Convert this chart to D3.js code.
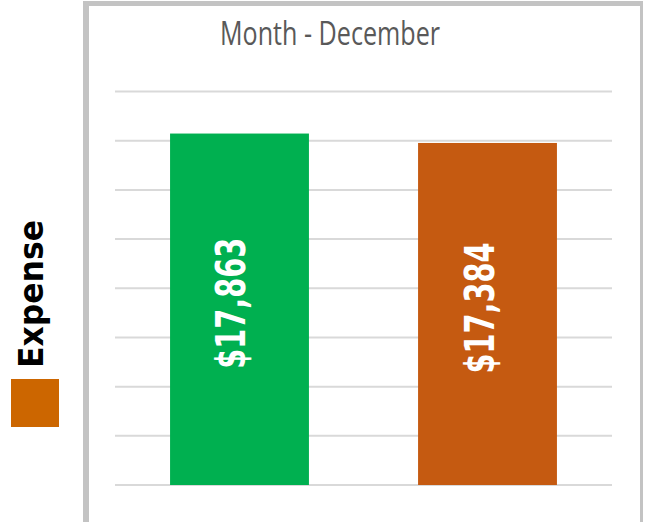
<!DOCTYPE html>
<html>
<head>
<meta charset="utf-8">
<script src="https://cdn.jsdelivr.net/npm/d3@7"></script>
<style>
  html, body { margin: 0; padding: 0; background: #fff; }
  svg { display: block; }
</style>
</head>
<body>
<div id="chart"></div>
<script>
// chart data
const categories = ['Income', 'Expense'];
const values = [17863, 17384];
const barColors = ['#00B050', '#C55A11'];
const labels = ['$17,863', '$17,384'];
const gridTicks = [0, 2500, 5000, 7500, 10000, 12500, 15000, 17500, 20000];
const chartTitle = 'Month - December';
const legendKeys = ['Expense'];
const legendColors = ['#CC6600'];

(function () {
  'use strict';
  const W = 647, H = 522;
  const svg = d3.select('#chart').append('svg').attr('width', W).attr('height', H);

  // plot area
  const plot = { left: 115, right: 612, top: 91.5, bottom: 485 };
  const x = d3.scaleBand().domain(categories).range([plot.left, plot.right]).paddingInner(0.44).paddingOuter(0.222);
  const y = d3.scaleLinear().domain([0, 20000]).range([plot.bottom, plot.top]);

  // frame
  const frame = svg.append('g').attr('fill', 'none').attr('stroke', '#c3c3c3');
  frame.append('line').attr('x1', 86).attr('x2', 86).attr('y1', 1).attr('y2', H).attr('stroke-width', 6);
  frame.append('line').attr('x1', 83).attr('x2', 643).attr('y1', 3.5).attr('y2', 3.5).attr('stroke-width', 5);
  frame.append('line').attr('x1', 641.5).attr('x2', 641.5).attr('y1', 1).attr('y2', H).attr('stroke-width', 3);

  // title
  svg.append('text').attr('x', 330).attr('y', 45)
    .attr('text-anchor', 'middle')
    .attr('textLength', 220).attr('lengthAdjust', 'spacingAndGlyphs')
    .style('font-family', "'Open Sans', sans-serif").style('font-size', '33px')
    .style('fill', '#595959').text(chartTitle);

  // gridlines
  svg.append('g').selectAll('line').data(gridTicks).enter().append('line')
    .attr('x1', plot.left).attr('x2', plot.right)
    .attr('y1', d => y(d)).attr('y2', d => y(d))
    .attr('stroke', '#d9d9d9').attr('stroke-width', 2);

  // bars
  const bars = svg.append('g').selectAll('g').data(categories).enter().append('g');
  bars.append('rect')
    .attr('x', d => x(d)).attr('width', x.bandwidth())
    .attr('y', (d, i) => y(values[i])).attr('height', (d, i) => y(0) - y(values[i]))
    .attr('fill', (d, i) => barColors[i]);

  // value labels (rotated)
  bars.append('text')
    .attr('transform', (d, i) => {
      const cx = x(d) + x.bandwidth() / 2 + 6;
      const cy = (y(values[i]) + y(0)) / 2 - 6;
      return `translate(${cx},${cy}) rotate(-90)`;
    })
    .attr('text-anchor', 'middle')
    .attr('textLength', 131).attr('lengthAdjust', 'spacingAndGlyphs')
    .style('font-family', "'DejaVu Sans', sans-serif").style('font-weight', 'bold').style('font-size', '40px')
    .style('fill', '#fff')
    .text((d, i) => labels[i]);

  // legend
  const lg = svg.append('g');
  lg.append('rect').attr('x', 11).attr('y', 379).attr('width', 48).attr('height', 48).attr('fill', legendColors[0]);
  lg.append('text')
    .attr('transform', 'translate(43,294) rotate(-90)')
    .attr('text-anchor', 'middle')
    .attr('textLength', 148).attr('lengthAdjust', 'spacingAndGlyphs')
    .style('font-family', "'DejaVu Sans', sans-serif").style('font-weight', 'bold').style('font-size', '34px')
    .style('fill', '#000').text(legendKeys[0]);
})();
</script>
</body>
</html>
